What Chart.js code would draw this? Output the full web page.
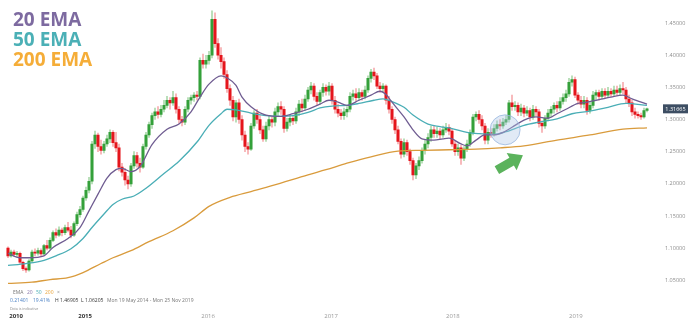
<!DOCTYPE html>
<html>
<head>
<meta charset="utf-8">
<title>USD/CAD with 20, 50 and 200 EMA</title>
<script src="https://cdn.jsdelivr.net/npm/chart.js@4.4.1/dist/chart.umd.min.js"></script>
<style>
  html, body { margin: 0; padding: 0; background: #fff; }
  #wrap { position: relative; width: 695px; height: 327px; }
</style>
</head>
<body>
<div id="wrap"><canvas id="emaChart"></canvas></div>
<script>
/* =========================
   Price data (one candle per bar)
========================= */
const opens = [
  1.100,1.088,1.094,1.090,1.092,1.078,1.068,1.066,1.080,1.094,
  1.092,1.096,1.091,1.104,1.100,1.112,1.124,1.120,1.128,1.124,
  1.132,1.128,1.120,1.138,1.152,1.160,1.178,1.190,1.204,1.262,
  1.276,1.258,1.252,1.262,1.270,1.280,1.264,1.256,1.226,1.218,
  1.206,1.200,1.228,1.244,1.232,1.226,1.258,1.276,1.292,1.306,
  1.312,1.308,1.316,1.322,1.330,1.326,1.334,1.316,1.300,1.296,
  1.316,1.330,1.334,1.338,1.336,1.392,1.386,1.392,1.400,1.456,
  1.418,1.400,1.390,1.370,1.348,1.330,1.304,1.326,1.300,1.276,
  1.258,1.254,1.290,1.310,1.300,1.284,1.270,1.290,1.300,1.296,
  1.312,1.320,1.316,1.286,1.296,1.302,1.298,1.312,1.324,1.318,
  1.332,1.346,1.352,1.336,1.328,1.342,1.350,1.344,1.352,1.330,
  1.316,1.310,1.306,1.312,1.316,1.336,1.340,1.334,1.342,1.336,
  1.346,1.364,1.374,1.368,1.352,1.348,1.352,1.330,1.316,1.300,
  1.284,1.266,1.246,1.264,1.250,1.236,1.214,1.228,1.236,1.252,
  1.262,1.272,1.284,1.278,1.282,1.276,1.284,1.288,1.282,1.262,
  1.250,1.256,1.240,1.254,1.262,1.280,1.304,1.308,1.300,1.290,
  1.268,1.280,1.278,1.286,1.292,1.290,1.296,1.300,1.326,1.320,
  1.322,1.312,1.318,1.310,1.314,1.304,1.316,1.312,1.294,1.290,
  1.302,1.310,1.316,1.322,1.318,1.328,1.334,1.340,1.358,1.362,
  1.338,1.330,1.324,1.330,1.314,1.322,1.338,1.342,1.336,1.344,
  1.338,1.344,1.340,1.346,1.342,1.348,1.346,1.332,1.326,1.312,
  1.308,1.306,1.304,1.314
];
const highs = [
  1.102,1.097,1.097,1.095,1.094,1.080,1.071,1.082,1.097,1.099,
  1.100,1.099,1.106,1.112,1.116,1.127,1.130,1.133,1.131,1.136,
  1.140,1.134,1.141,1.156,1.165,1.181,1.195,1.210,1.266,1.282,
  1.279,1.268,1.266,1.276,1.284,1.283,1.280,1.262,1.232,1.224,
  1.212,1.232,1.250,1.249,1.240,1.262,1.280,1.296,1.310,1.318,
  1.320,1.322,1.330,1.336,1.334,1.344,1.340,1.320,1.305,1.320,
  1.334,1.338,1.342,1.344,1.396,1.402,1.400,1.406,1.469,1.466,
  1.426,1.412,1.396,1.376,1.354,1.336,1.330,1.332,1.306,1.282,
  1.264,1.294,1.314,1.316,1.306,1.290,1.296,1.306,1.304,1.318,
  1.326,1.328,1.320,1.302,1.308,1.306,1.318,1.330,1.332,1.338,
  1.350,1.358,1.356,1.342,1.346,1.356,1.354,1.358,1.356,1.336,
  1.324,1.316,1.318,1.320,1.342,1.346,1.348,1.348,1.346,1.352,
  1.368,1.378,1.380,1.372,1.358,1.356,1.354,1.336,1.320,1.304,
  1.290,1.270,1.270,1.268,1.254,1.240,1.232,1.242,1.256,1.268,
  1.278,1.290,1.290,1.288,1.286,1.290,1.294,1.292,1.286,1.266,
  1.262,1.260,1.258,1.268,1.284,1.308,1.312,1.314,1.306,1.294,
  1.286,1.286,1.292,1.298,1.300,1.302,1.306,1.330,1.338,1.328,
  1.326,1.324,1.322,1.320,1.318,1.322,1.320,1.316,1.298,1.306,
  1.316,1.320,1.326,1.328,1.334,1.340,1.346,1.364,1.368,1.366,
  1.342,1.336,1.336,1.334,1.328,1.344,1.346,1.346,1.348,1.348,
  1.350,1.348,1.352,1.352,1.354,1.358,1.350,1.338,1.330,1.318,
  1.312,1.310,1.318,1.318
];
const lows = [
  1.085,1.086,1.087,1.086,1.076,1.065,1.062,1.064,1.078,1.088,
  1.089,1.088,1.089,1.097,1.098,1.110,1.116,1.118,1.119,1.121,
  1.125,1.116,1.118,1.135,1.148,1.157,1.174,1.186,1.200,1.255,
  1.250,1.246,1.248,1.258,1.264,1.258,1.250,1.220,1.212,1.198,
  1.192,1.196,1.224,1.226,1.218,1.224,1.254,1.272,1.286,1.300,
  1.302,1.304,1.312,1.318,1.316,1.322,1.310,1.294,1.290,1.292,
  1.312,1.324,1.328,1.330,1.332,1.380,1.380,1.386,1.396,1.412,
  1.394,1.380,1.364,1.342,1.322,1.298,1.296,1.294,1.268,1.250,
  1.246,1.252,1.286,1.294,1.278,1.266,1.266,1.284,1.288,1.290,
  1.306,1.308,1.280,1.282,1.290,1.292,1.294,1.306,1.312,1.314,
  1.328,1.340,1.330,1.322,1.324,1.336,1.338,1.338,1.324,1.310,
  1.304,1.300,1.300,1.304,1.312,1.330,1.328,1.330,1.330,1.332,
  1.342,1.358,1.362,1.348,1.342,1.342,1.324,1.310,1.294,1.278,
  1.262,1.240,1.242,1.244,1.230,1.206,1.208,1.222,1.232,1.246,
  1.256,1.266,1.272,1.272,1.270,1.272,1.280,1.276,1.258,1.244,
  1.244,1.230,1.236,1.250,1.258,1.276,1.298,1.294,1.284,1.262,
  1.262,1.272,1.274,1.282,1.284,1.286,1.292,1.296,1.314,1.314,
  1.306,1.306,1.304,1.306,1.298,1.300,1.306,1.288,1.280,1.286,
  1.298,1.304,1.310,1.312,1.314,1.324,1.328,1.336,1.352,1.334,
  1.324,1.318,1.318,1.308,1.310,1.318,1.332,1.330,1.332,1.334,
  1.334,1.336,1.336,1.338,1.338,1.340,1.326,1.320,1.306,1.302,
  1.302,1.300,1.302,1.312
];
const closes = [
  1.088,1.094,1.090,1.092,1.078,1.068,1.066,1.080,1.094,1.092,
  1.096,1.091,1.104,1.100,1.112,1.124,1.120,1.128,1.124,1.132,
  1.128,1.120,1.138,1.152,1.160,1.178,1.190,1.204,1.262,1.276,
  1.258,1.252,1.262,1.270,1.280,1.264,1.256,1.226,1.218,1.206,
  1.200,1.228,1.244,1.232,1.226,1.258,1.276,1.292,1.306,1.312,
  1.308,1.316,1.322,1.330,1.326,1.334,1.316,1.300,1.296,1.316,
  1.330,1.334,1.338,1.336,1.392,1.386,1.392,1.400,1.456,1.418,
  1.400,1.390,1.370,1.348,1.330,1.304,1.326,1.300,1.276,1.258,
  1.254,1.290,1.310,1.300,1.284,1.270,1.290,1.300,1.296,1.312,
  1.320,1.316,1.286,1.296,1.302,1.298,1.312,1.324,1.318,1.332,
  1.346,1.352,1.336,1.328,1.342,1.350,1.344,1.352,1.330,1.316,
  1.310,1.306,1.312,1.316,1.336,1.340,1.334,1.342,1.336,1.346,
  1.364,1.374,1.368,1.352,1.348,1.352,1.330,1.316,1.300,1.284,
  1.266,1.246,1.264,1.250,1.236,1.214,1.228,1.236,1.252,1.262,
  1.272,1.284,1.278,1.282,1.276,1.284,1.288,1.282,1.262,1.250,
  1.256,1.240,1.254,1.262,1.280,1.304,1.308,1.300,1.290,1.268,
  1.280,1.278,1.286,1.292,1.290,1.296,1.300,1.326,1.320,1.322,
  1.312,1.318,1.310,1.314,1.304,1.316,1.312,1.294,1.290,1.302,
  1.310,1.316,1.322,1.318,1.328,1.334,1.340,1.358,1.362,1.338,
  1.330,1.324,1.330,1.314,1.322,1.338,1.342,1.336,1.344,1.338,
  1.344,1.340,1.346,1.342,1.348,1.346,1.332,1.326,1.312,1.308,
  1.306,1.304,1.314,1.31665
];

/* EMA lines: bar index -> value */
const ema20Idx = [0,4,7,12,15,20,24,27,30,33,36,38,41,44,48,53,57,61,64,67,71,73,76,78,81,86,91,95,100,104,107,110,113,117,121,124,126,128,132,135,138,142,145,147,151,153,156,159,162,165,168,172,176,180,183,186,190,193,196,201,205,208,213];
const ema20 = [1.092,1.085,1.085,1.088,1.101,1.115,1.132,1.158,1.184,1.209,1.222,1.224,1.219,1.227,1.261,1.285,1.293,1.312,1.335,1.355,1.368,1.365,1.353,1.335,1.320,1.307,1.305,1.309,1.316,1.324,1.330,1.327,1.322,1.330,1.338,1.344,1.339,1.327,1.304,1.284,1.270,1.268,1.270,1.271,1.262,1.259,1.268,1.276,1.276,1.280,1.288,1.299,1.304,1.302,1.309,1.316,1.325,1.327,1.330,1.335,1.338,1.332,1.324];

const ema50Idx = [0,6,12,16,21,25,28,32,35,38,42,46,52,57,63,67,71,73,76,81,86,91,95,100,104,108,113,117,122,125,128,132,135,140,144,148,153,157,162,166,172,177,183,188,194,200,206,213];
const ema50 = [1.073,1.076,1.081,1.088,1.099,1.115,1.132,1.153,1.168,1.176,1.181,1.193,1.216,1.235,1.265,1.291,1.309,1.316,1.315,1.310,1.306,1.305,1.306,1.311,1.318,1.321,1.322,1.325,1.330,1.332,1.328,1.319,1.307,1.293,1.289,1.286,1.280,1.278,1.277,1.281,1.291,1.296,1.301,1.309,1.313,1.319,1.325,1.322];

const ema200Idx = [0,8,14,20,25,31,35,41,47,55,62,67,74,81,88,100,106,113,121,130,138,147,156,164,172,183,194,205,213];
const ema200 = [1.045,1.047,1.051,1.054,1.062,1.076,1.085,1.096,1.110,1.127,1.147,1.165,1.179,1.188,1.197,1.214,1.222,1.232,1.242,1.251,1.252,1.253,1.254,1.256,1.259,1.268,1.276,1.285,1.287];

/* axis labels */
const yTicks = [1.05, 1.10, 1.15, 1.20, 1.25, 1.30, 1.35, 1.40, 1.45];
const yearLabels = ['2010', '2015', '2016', '2017', '2018', '2019'];
const yearIdx = [2.7, 25.7, 66.7, 107.7, 148.3, 189.3];

/* highlight markers (bar index, price) */
const circleAt = [165.7, 1.284];
const arrowAt = [167.3, 1.233];

/* =========================
   Styles
========================= */
const UP = '#34a03a';
const DOWN = '#e5151c';
const UP_WICK = 'rgba(70,170,70,0.45)';
const DOWN_WICK = 'rgba(235,70,75,0.45)';
const C20 = '#6f5c91';
const C50 = '#4aaeb6';
const C200 = '#d99b3c';
const FONT = '"Open Sans", "Liberation Sans", sans-serif';
const CLEAR = 'rgba(0,0,0,0)';

const isUp = closes.map((c, i) => c >= opens[i]);
const bodies = closes.map((c, i) => ({ x: i, y: [opens[i], c] }));
const wicks = closes.map((c, i) => ({ x: i, y: [lows[i], highs[i]] }));
const toPoints = (idx, vals) => idx.map((x, k) => ({ x, y: vals[k] }));

function emaLine(label, idx, vals, color) {
  return {
    type: 'line',
    label,
    data: toPoints(idx, vals),
    borderColor: color,
    borderWidth: 1.3,
    pointRadius: 0,
    fill: false,
    cubicInterpolationMode: 'monotone',
    order: 0
  };
}

/* =========================
   Extra drawing: markers, price tag, texts
========================= */
const overlay = {
  id: 'overlay',
  afterDatasetsDraw(chart) {
    const { ctx, scales: { x, y } } = chart;
    ctx.save();

    // soft blue circle
    const cx = x.getPixelForValue(circleAt[0]);
    const cy = y.getPixelForValue(circleAt[1]);
    ctx.beginPath();
    ctx.arc(cx, cy, 15, 0, Math.PI * 2);
    ctx.fillStyle = 'rgba(175,200,232,0.38)';
    ctx.fill();
    ctx.strokeStyle = 'rgba(150,180,222,0.75)';
    ctx.lineWidth = 1;
    ctx.stroke();

    // green arrow pointing up-right
    const ax = x.getPixelForValue(arrowAt[0]);
    const ay = y.getPixelForValue(arrowAt[1]);
    ctx.translate(ax, ay);
    ctx.rotate(-0.52);
    ctx.beginPath();
    ctx.moveTo(-15, -4.5);
    ctx.lineTo(2, -4.5);
    ctx.lineTo(2, -10);
    ctx.lineTo(15, 0);
    ctx.lineTo(2, 10);
    ctx.lineTo(2, 4.5);
    ctx.lineTo(-15, 4.5);
    ctx.closePath();
    ctx.fillStyle = '#5bb35c';
    ctx.fill();
    ctx.restore();
  },
  afterDraw(chart) {
    const { ctx, scales: { y } } = chart;
    ctx.save();

    // last price tag
    const last = closes[closes.length - 1];
    const py = y.getPixelForValue(last);
    ctx.fillStyle = '#3d4e63';
    ctx.fillRect(663, py - 4.5, 25, 9);
    ctx.fillStyle = '#fff';
    ctx.font = '5.5px ' + FONT;
    ctx.textAlign = 'center';
    ctx.textBaseline = 'middle';
    ctx.fillText(last.toFixed(5), 675.5, py + 0.5);

    // big EMA titles
    ctx.textAlign = 'left';
    ctx.textBaseline = 'alphabetic';
    ctx.font = 'bold 19px ' + FONT;
    ctx.fillStyle = '#7d6aa0';
    ctx.fillText('20 EMA', 13, 25.5);
    ctx.fillStyle = '#4bb0b6';
    ctx.fillText('50 EMA', 13, 45.5);
    ctx.fillStyle = '#f5ad38';
    ctx.fillText('200 EMA', 13, 65.5);

    // study info lines
    ctx.textBaseline = 'middle';
    ctx.font = '5px ' + FONT;
    const put = (txt, px, pyy, col) => { ctx.fillStyle = col; ctx.fillText(txt, px, pyy); };
    put('EMA', 13, 293, '#777');
    put('20', 27, 293, '#8a78aa');
    put('50', 36, 293, '#4aaeb6');
    put('200', 45, 293, '#eaa53a');
    put('\u00d7', 57, 293, '#888');
    put('0.21401', 10, 301, '#4a80c4');
    put('19.41%', 33, 301, '#4a80c4');
    put('H 1.46905', 55, 301, '#333');
    put('L 1.06205', 81, 301, '#333');
    put('Mon 19 May 2014 - Mon 25 Nov 2019', 107, 301, '#777');
    ctx.font = '3.6px ' + FONT;
    put('Data is indicative', 10, 308.5, '#888');
    ctx.restore();
  }
};

/* =========================
   Chart
========================= */
const ctx = document.getElementById('emaChart').getContext('2d');
const emaChart = new Chart(ctx, {
  type: 'bar',
  data: {
    datasets: [
      emaLine('20 EMA', ema20Idx, ema20, C20),
      emaLine('50 EMA', ema50Idx, ema50, C50),
      emaLine('200 EMA', ema200Idx, ema200, C200),
      {
        label: 'body',
        data: bodies,
        backgroundColor: isUp.map(u => u ? UP : DOWN),
        barThickness: 2.4,
        grouped: false,
        order: 1
      },
      {
        label: 'wick',
        data: wicks,
        backgroundColor: isUp.map(u => u ? UP_WICK : DOWN_WICK),
        barThickness: 1,
        grouped: false,
        order: 2
      }
    ]
  },
  options: {
    responsive: true,
    maintainAspectRatio: false,
    animation: false,
    layout: { padding: 0 },
    plugins: {
      legend: { display: false },
      tooltip: { enabled: false }
    },
    scales: {
      x: {
        type: 'linear',
        min: -2.667,
        max: 214,
        offset: false,
        grid: { display: false, drawTicks: false },
        border: { display: false },
        afterBuildTicks: (scale) => { scale.ticks = yearIdx.map(v => ({ value: v })); },
        afterFit: (scale) => { scale.height = 22; },
        ticks: {
          autoSkip: false,
          maxRotation: 0,
          padding: 8,
          callback: (v, i) => yearLabels[i],
          color: (c) => c.index < 2 ? '#333' : '#999',
          font: (c) => ({ family: FONT, size: 6, weight: c.index < 2 ? 'bold' : 'normal' })
        }
      },
      y: {
        position: 'right',
        min: 1.0115,
        max: 1.4808,
        // invisible tick marks keep the labels 15px off the plot edge
        grid: { display: true, color: CLEAR, drawTicks: true, tickLength: 15 },
        border: { display: false },
        afterBuildTicks: (scale) => { scale.ticks = yTicks.map(v => ({ value: v })); },
        afterFit: (scale) => { scale.width = 45; },
        ticks: {
          padding: 0,
          color: '#8c8c8c',
          font: { family: FONT, size: 5.5 },
          callback: (v) => Number(v).toFixed(5)
        }
      }
    }
  },
  plugins: [overlay]
});
</script>
</body>
</html>
